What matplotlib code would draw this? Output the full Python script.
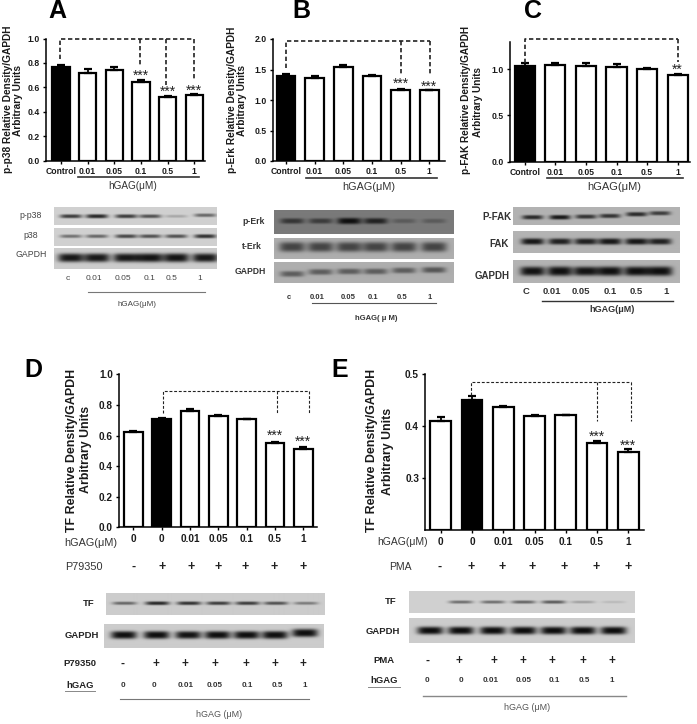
import numpy as np
import matplotlib
matplotlib.use('Agg')
import matplotlib.pyplot as plt

plt.rcParams['font.family'] = ['Liberation Sans', 'DejaVu Sans']

W, H = 697, 724

# bar values
doses = ['0.01', '0.05', '0.1', '0.5', '1']
labels_top = ['Control'] + doses
labels_bottom = ['0', '0'] + doses

a_vals = [0.77, 0.72, 0.745, 0.645, 0.52, 0.535]
a_errs = [0.015, 0.03, 0.02, 0.012, 0.008, 0.01]
b_vals = [1.39, 1.36, 1.54, 1.39, 1.17, 1.16]
b_errs = [0.03, 0.04, 0.03, 0.02, 0.01, 0.01]
c_vals = [1.03, 1.045, 1.03, 1.025, 1.0, 0.935]
c_errs = [0.03, 0.02, 0.03, 0.03, 0.008, 0.015]
d_vals = [0.62, 0.71, 0.76, 0.725, 0.705, 0.55, 0.515]
d_errs = [0.01, 0.005, 0.015, 0.01, 0.005, 0.008, 0.007]
e_vals = [0.411, 0.45, 0.437, 0.42, 0.421, 0.368, 0.35]
e_errs = [0.007, 0.009, 0.002, 0.001, 0.001, 0.003, 0.006]

signs = ['-', '+', '+', '+', '+', '+', '+']

# how dark each blot band looks, per lane
a_pp38 = [0.7, 0.8, 0.7, 0.6, 0.2, 0.5]
a_p38 = [0.45, 0.5, 0.65, 0.6, 0.6, 0.75]
a_gapdh = [0.85, 0.85, 0.85, 0.9, 0.9, 0.85]
b_perk = [0.55, 0.5, 0.85, 0.7, 0.25, 0.25]
b_terk = [0.75, 0.75, 0.75, 0.75, 0.75, 0.75]
b_gapdh = [0.55, 0.55, 0.55, 0.55, 0.55, 0.6]
c_pfak = [0.75, 0.85, 0.7, 0.7, 0.75, 0.65]
c_fak = [0.85, 0.8, 0.8, 0.85, 0.85, 0.8]
c_gapdh = [0.85, 0.95, 0.85, 0.9, 0.9, 0.95]
d_tf = [0.5, 0.8, 0.75, 0.7, 0.7, 0.6, 0.4]
d_gapdh = [0.9, 0.9, 0.85, 0.9, 0.9, 0.95, 1.0]
e_tf = [0.0, 0.5, 0.5, 0.55, 0.6, 0.25, 0.12]
e_gapdh = [0.95, 0.95, 0.95, 0.95, 0.95, 0.95, 0.95]

fig = plt.figure(figsize=(W / 100, H / 100), dpi=100, facecolor='white')


def txt(x, y, s, size=6.5, weight='normal', color='#1a1a1a', **kw):
    kw.setdefault('ha', 'center')
    kw.setdefault('va', 'center')
    return fig.text(x / W, 1 - y / H, s, fontsize=size, fontweight=weight, color=color, **kw)


def line(x0, x1, y, color='#333333', lw=1.0):
    fig.add_artist(plt.Line2D([x0 / W, x1 / W], [1 - y / H, 1 - y / H], color=color, lw=lw))


def panel(left, right, top, bottom, c0, c1, vals, errs, black, ylim, yticks, ticklabels, tsize):
    n = len(vals)
    ax = fig.add_axes([left / W, 1 - bottom / H, (right - left) / W, (bottom - top) / H])
    unit = (c1 - c0) / (n - 1)
    ax.set_xlim(-(c0 - left) / unit, n - 1 + (right - c1) / unit)
    ax.set_ylim(*ylim)
    x = np.arange(n)
    heights = np.array(vals) - ylim[0]
    colors = ['black' if i == black else 'white' for i in x]
    ax.bar(x, heights, bottom=ylim[0], width=0.66, color=colors, edgecolor='black', linewidth=1.6)
    ax.errorbar(x, vals, yerr=[np.zeros(n), errs], fmt='none', ecolor='black', elinewidth=1.3,
                capsize=3.2, capthick=1.6)
    for s in ['top', 'right']:
        ax.spines[s].set_visible(False)
    ax.spines['left'].set_linewidth(1.1)
    ax.spines['bottom'].set_linewidth(1.1)
    ax.set_xticks(x)
    ax.set_yticks(yticks)
    ax.set_yticklabels(['%.1f' % t for t in yticks], fontsize=tsize, fontweight='bold', color='#1a1a1a')
    ax.set_xticklabels(ticklabels, fontsize=tsize, fontweight='bold', color='#1a1a1a')
    ax.tick_params(axis='both', length=2.5, width=1.0, pad=2)
    ax.patch.set_alpha(0)
    return ax


def bracket(ax, start, top, drops, lw=1.2):
    xs = [start[0], start[0], max(d[0] for d in drops)]
    ys = [start[1], top, top]
    ax.plot(xs, ys, color='#222222', lw=lw, ls=(0, (2.6, 1.6)), clip_on=False, zorder=5)
    for dx, dy in drops:
        ax.plot([dx, dx], [top, dy], color='#222222', lw=lw, ls=(0, (2.6, 1.6)), clip_on=False, zorder=5)


def stars(ax, x, y, s='***', size=10):
    ax.text(x, y, s, ha='center', va='center', fontsize=size, color='#222222', clip_on=False)


def strip(x0, x1, y0, y1, bg, lanes, dark, band_y, half_w, half_h, band_tone=0.1):
    # one blot strip, grey background with soft bands
    ax = fig.add_axes([x0 / W, 1 - y1 / H, (x1 - x0) / W, (y1 - y0) / H])
    xx, yy = np.meshgrid(np.arange(x0, x1, 0.5), np.arange(y0, y1, 0.5))
    img = np.full(xx.shape, bg, dtype=float)
    if np.isscalar(band_y):
        band_y = [band_y] * len(lanes)
    for lx, d, ly in zip(lanes, dark, band_y):
        shape = np.exp(-((xx - lx) / half_w) ** 4) * np.exp(-np.abs((yy - ly) / (half_h * (0.65 + 0.45 * d))) ** 3)
        img -= min(1.0, d * 1.15) * shape * (bg - band_tone)
    ax.imshow(img, cmap='gray', vmin=0, vmax=1, aspect='auto', interpolation='bilinear')
    ax.axis('off')


# panel letters
txt(57, 11, 'A', 18, 'bold', 'black')
txt(301.5, 11, 'B', 18, 'bold', 'black')
txt(533, 11, 'C', 18, 'bold', 'black')
txt(33, 370, 'D', 18, 'bold', 'black')
txt(340, 370, 'E', 18, 'bold', 'black')

# panel A
ax = panel(46, 205, 38.5, 160.7, 61, 194.3, a_vals, a_errs, 0, (0, 1.0), [0, 0.2, 0.4, 0.6, 0.8, 1.0], labels_top, 6.2)
bracket(ax, (-0.03, 0.83), 1.0, [(2.98, 0.77), (3.95, 0.62), (5, 0.67)])
stars(ax, 3, 0.695)
stars(ax, 4, 0.565)
stars(ax, 5, 0.575)
txt(8.3, 99, 'p-p38 Relative Density/GAPDH', 7.3, 'bold', rotation=90)
txt(18.3, 100, 'Arbitrary Units', 7.3, 'bold', rotation=90)
line(78, 199, 177.3, lw=1.2)
txt(133, 186, 'hGAG(μM)', 7.2, color='#333333')

# panel B
ax = panel(272.7, 445, 39, 161, 286, 429.3, b_vals, b_errs, 0, (0, 2.0), [0, 0.5, 1.0, 1.5, 2.0], labels_top, 6.2)
bracket(ax, (0, 1.52), 1.967, [(4, 1.39), (5.03, 1.41)])
stars(ax, 4, 1.26)
stars(ax, 5, 1.22)
txt(231.7, 100, 'p-Erk Relative Density/GAPDH', 7.3, 'bold', rotation=90)
txt(242.3, 100, 'Arbitrary Units', 7.3, 'bold', rotation=90)
line(306, 436.7, 178, lw=1.2)
txt(368.3, 186.7, 'hGAG(μM)', 7.8, color='#333333')

# panel C
ax = panel(509.7, 690, 41.7, 161.7, 524.7, 677.7, c_vals, c_errs, 0, (0, 1.295), [0, 0.5, 1.0], labels_top, 6.2)
bracket(ax, (0, 1.06), 1.32, [(5, 1.08)])
stars(ax, 5, 0.995, '**')
txt(466, 100, 'p-FAK Relative Density/GAPDH', 7.2, 'bold', rotation=90)
txt(478, 102, 'Arbitrary Units', 7.2, 'bold', rotation=90)
line(546.7, 682.7, 178, lw=1.2)
txt(614, 187, 'hGAG(μM)', 8, color='#333333')

# panel D
ax = panel(119, 317, 374.3, 527.3, 133.3, 303.3, d_vals, d_errs, 1, (0, 1.0), [0, 0.2, 0.4, 0.6, 0.8, 1.0], labels_bottom, 7.2)
bracket(ax, (1.06, 0.745), 0.891, [(5.08, 0.745), (6.2, 0.745)], lw=0.8)
stars(ax, 5, 0.6)
stars(ax, 6, 0.556)
txt(71.7, 450, 'TF Relative Density/GAPDH', 8.9, 'bold', rotation=90)
txt(86, 449.5, 'Arbitrary Units', 8.9, 'bold', rotation=90)
txt(90.7, 543, 'hGAG(μM)', 7.8, color='#333333')
txt(84, 566.7, 'P79350', 7.8, color='#333333')
for px, s in zip([133.3, 161.7, 190.7, 217.7, 245, 274, 303.3], signs):
    txt(px, 566.7, s, 9, 'bold', '#222222')

# panel E
ax = panel(425.3, 644, 374.3, 530.3, 440.7, 628.3, e_vals, e_errs, 1, (0.2, 0.5), [0.3, 0.4, 0.5], labels_bottom, 7.2)
bracket(ax, (0.97, 0.46), 0.486, [(5, 0.411), (6.1, 0.41)], lw=0.8)
stars(ax, 5, 0.38)
stars(ax, 6, 0.362)
txt(372.3, 450, 'TF Relative Density/GAPDH', 8.9, 'bold', rotation=90)
txt(388.3, 451.7, 'Arbitrary Units', 8.9, 'bold', rotation=90)
txt(402.7, 541.7, 'hGAG(μM)', 7.5, color='#333333')
txt(400.7, 566.7, 'PMA', 7.5, color='#333333')
for px, s in zip([440, 470.7, 501.7, 532.3, 564, 595.7, 628.3], signs):
    txt(px, 566.7, s, 9, 'bold', '#222222')

# blot A
lanes = [70.7, 96.7, 126, 150, 176, 205]
strip(54, 217, 207, 225, 0.82, lanes, a_pp38, [216, 216, 216, 216, 216, 215], 11, 2.0)
strip(54, 217, 228, 245.7, 0.82, lanes, a_p38, 236, 11, 2.0)
strip(54, 217, 248, 269, 0.8, lanes, a_gapdh, 257.5, 13, 4.2, 0.08)
for y, s in zip([216, 236, 254], ['p-p38', 'p38', 'GAPDH']):
    txt(31, y, s, 6.3, color='#444444')
for x, s in zip([67.7, 94, 122.7, 150, 171.7, 200], ['c'] + doses):
    txt(x, 278, s, 6, color='#444444')
line(88, 205, 292, '#777777', 0.8)
txt(137, 304, 'hGAG(μM)', 5.8, color='#444444')

# blot B
lanes = [292.3, 320.7, 349.3, 375.7, 404, 434]
strip(274.3, 454.3, 210, 234.3, 0.48, lanes, b_perk, 221.5, 12, 3.0, 0.05)
strip(274.3, 454.3, 238, 259, 0.68, lanes, b_terk, 246.7, 13, 5, 0.2)
strip(274.3, 454.3, 262.3, 283.3, 0.68, lanes, b_gapdh, [274, 272, 271.5, 271.5, 270.5, 270], 12, 3.2, 0.18)
for x, y, s in zip([253.3, 251.7, 250.7], [221, 246.7, 271.7], ['p-Erk', 't-Erk', 'GAPDH']):
    txt(x, y, s, 6.2, 'bold', '#333333')
for x, s in zip([289.3, 316.7, 348.3, 373.3, 401.7, 429.3], ['c'] + doses):
    txt(x, 297.7, s, 5.5, 'bold', '#333333')
line(311.7, 435.7, 303.3, '#555555', 0.8)
txt(376.7, 318, 'hGAG( μ M)', 5.5, 'bold', '#333333')

# blot C
lanes = [532.7, 560, 586, 610, 636.7, 660]
strip(513.3, 680, 207.3, 225, 0.7, lanes, c_pfak, [217.3, 217.3, 216.7, 216, 214.3, 213.3], 10.5, 2.2, 0.08)
strip(513.3, 680, 231, 253.3, 0.7, lanes, c_fak, 242, 11.5, 3, 0.08)
strip(513.3, 680, 260.3, 283.3, 0.7, lanes, c_gapdh, 271.7, 12.5, 4.2, 0.06)
for x, y, s in zip([497.3, 499, 492.3], [216.7, 244.3, 275.7], ['P-FAK', 'FAK', 'GAPDH']):
    txt(x, y, s, 7, 'bold', '#333333')
for x, s in zip([525.7, 551.7, 580.7, 610.7, 636.7, 665.7], ['C'] + doses):
    txt(x, 291, s, 6.8, 'bold', '#333333')
line(541.7, 673.3, 301, '#333333', 1.0)
txt(611.7, 309.3, 'hGAG(μM)', 6.5, 'bold', '#333333')

# blot D
lanes = [124, 156.7, 188.3, 217.7, 246.7, 275, 305]
strip(105.7, 324, 593.3, 615, 0.8, lanes, d_tf, 603.3, 12, 1.8, 0.1)
strip(104.3, 324, 624, 648.3, 0.8, lanes, d_gapdh, [635.5, 635.5, 635.5, 635.5, 635.5, 635.5, 633.5], 13, 3.6, 0.06)
txt(88.7, 603.3, 'TF', 6.8, 'bold', '#222222')
txt(81.7, 636, 'GAPDH', 6.8, 'bold', '#222222')
txt(80, 664, 'P79350', 6.8, 'bold', '#222222')
txt(80, 685, 'hGAG', 6.8, 'bold', '#222222')
line(65, 95, 691, '#888888', 0.7)
for x, s in zip([122.7, 155.7, 185, 215, 245.7, 275.3, 303.3], signs):
    txt(x, 664, s, 8.5, 'bold', '#222222')
for x, s in zip([122.7, 154.3, 185.3, 215, 247.3, 277.3, 304.3], labels_bottom):
    txt(x, 685.7, s, 5.8, 'bold', '#333333')
line(120, 309, 699.3, '#777777', 0.8)
txt(219, 714.3, 'hGAG (μM)', 6.5, color='#555555')

# blot E
lanes = [430, 460.7, 492.7, 523.3, 553.3, 582.7, 613.3]
strip(409, 634.7, 590.7, 612.7, 0.82, lanes, e_tf, 601.5, 12, 1.8, 0.15)
strip(409, 634.7, 617.7, 642.7, 0.8, lanes, e_gapdh, 630, 13, 3.6, 0.05)
txt(390.7, 602, 'TF', 6.8, 'bold', '#222222')
txt(383.3, 631, 'GAPDH', 6.8, 'bold', '#222222')
txt(384, 660.7, 'PMA', 6.8, 'bold', '#222222')
txt(384, 680.7, 'hGAG', 6.8, 'bold', '#222222')
line(368, 400, 687, '#888888', 0.7)
for x, s in zip([427.3, 459.3, 494, 523.3, 552.3, 583.3, 612.3], signs):
    txt(x, 660.7, s, 8.5, 'bold', '#222222')
for x, s in zip([427.3, 460.7, 490.3, 523.7, 554.3, 584, 612], labels_bottom):
    txt(x, 681, s, 5.8, 'bold', '#333333')
line(422.7, 626, 695.7, '#888888', 1.0)
txt(527.3, 707.7, 'hGAG (μM)', 6.5, color='#555555')

fig.savefig('out.png', dpi=100)
